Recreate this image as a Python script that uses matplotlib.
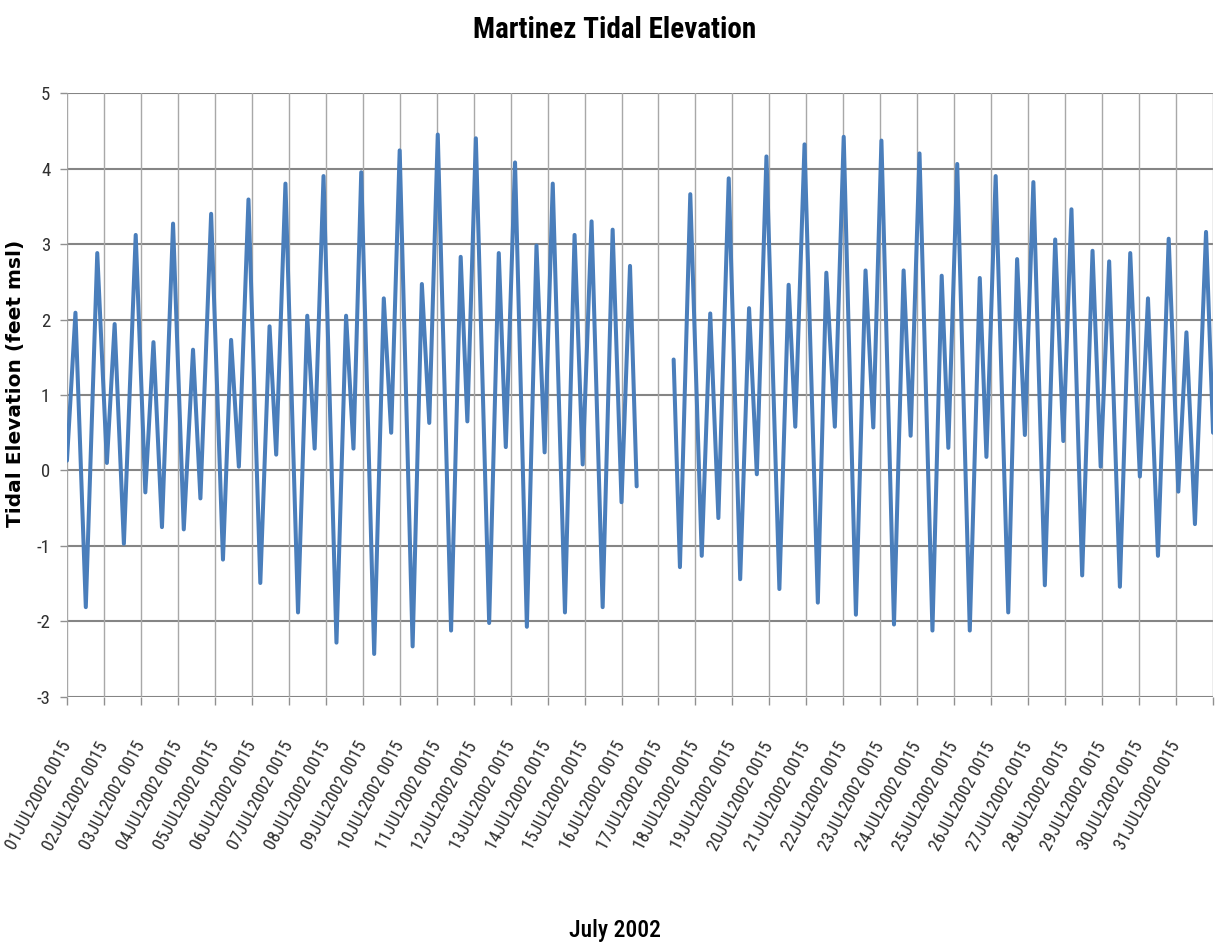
import numpy as np
import matplotlib.pyplot as plt

# high / low water readings, days after 01JUL2002 0015, elevation in feet msl
days_a = [0.00, 0.23, 0.51, 0.82, 1.08, 1.29, 1.54, 1.86, 2.12, 2.34, 2.57, 2.87,
          3.16, 3.41, 3.61, 3.90, 4.22, 4.44, 4.65, 4.91, 5.23, 5.48, 5.66, 5.91,
          6.25, 6.50, 6.70, 6.94, 7.29, 7.55, 7.75, 7.96, 8.31, 8.57, 8.77, 9.00,
          9.35, 9.60, 9.80, 10.03, 10.39, 10.65, 10.83, 11.06, 11.42, 11.68, 11.87,
          12.12, 12.44, 12.70, 12.92, 13.14, 13.47, 13.73, 13.95, 14.19, 14.49,
          14.76, 15.00, 15.23, 15.41]
elev_a = [0.13, 2.09, -1.81, 2.88, 0.10, 1.94, -0.97, 3.12, -0.29, 1.70, -0.75, 3.27,
          -0.78, 1.60, -0.37, 3.40, -1.18, 1.73, 0.05, 3.59, -1.49, 1.91, 0.21, 3.80,
          -1.88, 2.05, 0.29, 3.90, -2.28, 2.05, 0.29, 3.95, -2.43, 2.28, 0.50, 4.24,
          -2.33, 2.47, 0.63, 4.45, -2.12, 2.83, 0.65, 4.40, -2.02, 2.88, 0.31,
          4.08, -2.07, 2.98, 0.24, 3.80, -1.88, 3.12, 0.08, 3.30, -1.81,
          3.19, -0.42, 2.71, -0.21]

# record resumes after the missing stretch on the 16th/17th
days_b = [16.41, 16.58, 16.86, 17.17, 17.40, 17.62, 17.90, 18.21, 18.45, 18.66,
          18.92, 19.27, 19.52, 19.70, 19.95, 20.31, 20.54, 20.77, 21.01, 21.34,
          21.60, 21.81, 22.03, 22.37, 22.63, 22.82, 23.06, 23.41, 23.66, 23.84,
          24.08, 24.42, 24.69, 24.87, 25.12, 25.46, 25.70, 25.91, 26.14, 26.45,
          26.73, 26.95, 27.17, 27.46, 27.74, 27.96, 28.19, 28.48, 28.76, 29.02,
          29.24, 29.51, 29.80, 30.06, 30.28, 30.51, 30.81, 31.00]
elev_b = [1.47, -1.28, 3.66, -1.13, 2.08, -0.63, 3.87, -1.44, 2.15, -0.05,
          4.16, -1.57, 2.46, 0.58, 4.32, -1.75, 2.62, 0.58, 4.42, -1.91,
          2.65, 0.57, 4.37, -2.04, 2.65, 0.46, 4.20, -2.12, 2.58, 0.30,
          4.06, -2.12, 2.55, 0.18, 3.90, -1.88, 2.80, 0.47, 3.82, -1.52,
          3.06, 0.39, 3.46, -1.39, 2.91, 0.05, 2.77, -1.54, 2.88, -0.08,
          2.28, -1.13, 3.07, -0.28, 1.83, -0.71, 3.16, 0.50]

day_labels = ['%02dJUL2002 0015' % d for d in range(1, 32)]
y_ticks = [-3, -2, -1, 0, 1, 2, 3, 4, 5]

narrow = ['Roboto Condensed', 'Liberation Sans Narrow', 'DejaVu Sans']
narrow_kw = dict(family=narrow, fontstretch='condensed')

fig = plt.figure(figsize=(12.15, 9.51), dpi=100)
ax = fig.add_axes([0.0551, 0.2671, 0.9433, 0.6351])

ax.plot(days_a, elev_a, color='#4a7ebb', lw=2.9, solid_joinstyle='round',
        solid_capstyle='round', zorder=3)
ax.plot(days_b, elev_b, color='#4a7ebb', lw=2.9, solid_joinstyle='round',
        solid_capstyle='round', zorder=3)

ax.set_xlim(0, 31)
ax.set_ylim(-3, 5)
ax.set_xticks(range(32))
ax.set_xticklabels(day_labels + [''], rotation=62, ha='right', va='center',
                   rotation_mode='anchor', fontsize=13, color='#303030', **narrow_kw)
ax.set_yticks(y_ticks)
ax.set_yticklabels([str(v) for v in y_ticks], fontsize=13.5, color='#303030', **narrow_kw)
ax.tick_params(axis='x', length=6, width=1, color='#909090', pad=27)
ax.tick_params(axis='y', length=5, width=1, color='#909090', pad=7)

for v in y_ticks:
    ax.axhline(v, color='#858585', lw=1.5, zorder=1)
for d in range(32):
    ax.axvline(d, color='#a8a8a8', lw=1.0, zorder=1)

for s in ax.spines.values():
    s.set_visible(False)

ax.set_ylabel('Tidal Elevation (feet msl)', family='DejaVu Sans', fontweight='bold',
              fontsize=14.5)
ax.yaxis.set_label_coords(-0.037, 0.52)

fig.text(0.506, 0.968, 'Martinez Tidal Elevation', fontsize=21, fontweight='bold',
         ha='center', va='center', **narrow_kw)
fig.text(0.506, 0.022, 'July 2002', fontsize=17, fontweight='medium',
         ha='center', va='center', **narrow_kw)

fig.savefig('out.png', dpi=100)
